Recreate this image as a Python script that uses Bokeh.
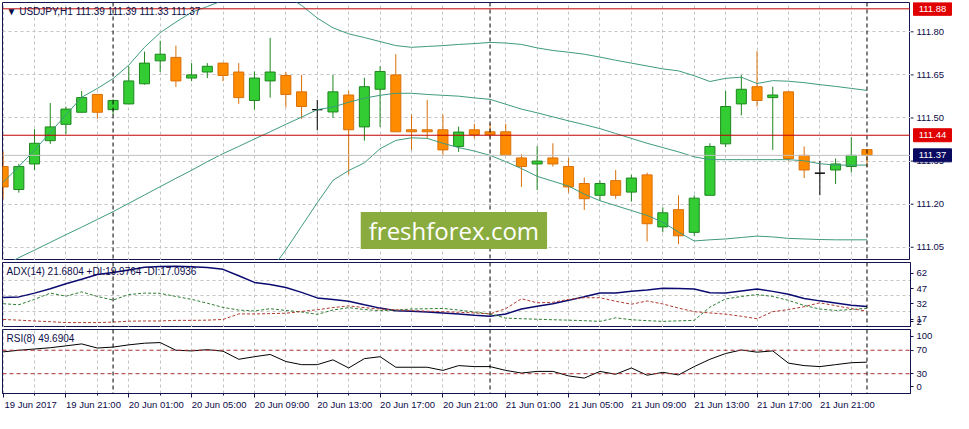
import pandas as pd
from bokeh.plotting import figure
from bokeh.models import (Range1d, FixedTicker, Span, Label, ColumnDataSource,
                          LinearAxis)
from bokeh.layouts import column, row
from bokeh.core.properties import value
from bokeh.embed import file_html
from bokeh.resources import INLINE

# ---------------- data ----------------
symbol = "USDJPY,H1"
times = pd.date_range("2017-06-19 17:00", periods=56, freq="h")

opens = [111.331, 111.251, 111.340, 111.421, 111.478, 111.520, 111.582, 111.529,
         111.549, 111.619, 111.699, 111.711, 111.639, 111.660, 111.691, 111.660,
         111.561, 111.629, 111.648, 111.591, 111.529, 111.521, 111.580, 111.469,
         111.600, 111.650, 111.459, 111.459, 111.459, 111.401, 111.459, 111.452,
         111.452, 111.361, 111.340, 111.361, 111.331, 111.272, 111.231, 111.282,
         111.242, 111.302, 111.121, 111.181, 111.102, 111.231, 111.410, 111.549,
         111.609, 111.571, 111.591, 111.370, 111.308, 111.319, 111.331, 111.39]
highs = [111.382, 111.340, 111.461, 111.552, 111.540, 111.594, 111.584, 111.565,
         111.680, 111.731, 111.769, 111.752, 111.691, 111.691, 111.693, 111.691,
         111.662, 111.779, 111.660, 111.650, 111.563, 111.650, 111.594, 111.640,
         111.680, 111.722, 111.512, 111.563, 111.512, 111.470, 111.480, 111.480,
         111.480, 111.374, 111.402, 111.412, 111.361, 111.293, 111.282, 111.319,
         111.302, 111.310, 111.189, 111.231, 111.231, 111.412, 111.594, 111.650,
         111.733, 111.609, 111.592, 111.401, 111.351, 111.359, 111.433, 111.39]
lows = [111.219, 111.240, 111.319, 111.410, 111.444, 111.518, 111.497, 111.510,
        111.548, 111.616, 111.660, 111.608, 111.628, 111.639, 111.628, 111.549,
        111.529, 111.571, 111.537, 111.497, 111.457, 111.501, 111.304, 111.421,
        111.469, 111.452, 111.389, 111.429, 111.370, 111.382, 111.430, 111.433,
        111.370, 111.260, 111.249, 111.331, 111.240, 111.180, 111.212, 111.219,
        111.209, 111.070, 111.102, 111.061, 111.090, 111.231, 111.399, 111.509,
        111.540, 111.389, 111.351, 111.291, 111.231, 111.270, 111.310, 111.33]
closes = [111.260, 111.331, 111.412, 111.469, 111.531, 111.571, 111.520, 111.561,
          111.629, 111.691, 111.722, 111.629, 111.650, 111.680, 111.648, 111.571,
          111.639, 111.660, 111.582, 111.540, 111.529, 111.591, 111.459, 111.609,
          111.662, 111.452, 111.452, 111.452, 111.389, 111.451, 111.442, 111.442,
          111.370, 111.331, 111.350, 111.340, 111.260, 111.219, 111.272, 111.231,
          111.291, 111.132, 111.170, 111.090, 111.221, 111.401, 111.540, 111.600,
          111.561, 111.580, 111.359, 111.319, 111.308, 111.340, 111.370, 111.37]

bb_upper = [111.276, 111.331, 111.388, 111.450, 111.511, 111.572, 111.603, 111.637,
            111.684, 111.746, 111.797, 111.834, 111.868, 111.888, 111.909, 111.926,
            111.936, 111.940, 111.926, 111.892, 111.848, 111.814, 111.793, 111.780,
            111.766, 111.752, 111.746, 111.749, 111.752, 111.756, 111.759, 111.763,
            111.761, 111.756, 111.744, 111.735, 111.729, 111.722, 111.712, 111.701,
            111.691, 111.681, 111.671, 111.664, 111.647, 111.627, 111.638, 111.642,
            111.620, 111.630, 111.628, 111.623, 111.616, 111.610, 111.603, 111.596]
bb_mid = [110.984, 111.014, 111.040, 111.067, 111.094, 111.120, 111.147, 111.174,
          111.203, 111.232, 111.261, 111.290, 111.318, 111.348, 111.376, 111.401,
          111.427, 111.452, 111.478, 111.503, 111.529, 111.538, 111.555, 111.569,
          111.579, 111.586, 111.586, 111.582, 111.579, 111.576, 111.570, 111.565,
          111.548, 111.531, 111.518, 111.504, 111.490, 111.477, 111.463, 111.446,
          111.429, 111.412, 111.397, 111.382, 111.365, 111.355, 111.355, 111.355,
          111.355, 111.355, 111.355, 111.351, 111.341, 111.336, 111.336, 111.336]
bb_lower = [110.691, 110.701, 110.695, 110.684, 110.678, 110.671, 110.691, 110.712,
            110.722, 110.718, 110.725, 110.746, 110.769, 110.807, 110.844, 110.878,
            110.919, 110.967, 111.041, 111.123, 111.205, 111.283, 111.317, 111.344,
            111.393, 111.422, 111.431, 111.429, 111.412, 111.397, 111.385, 111.370,
            111.348, 111.324, 111.297, 111.280, 111.263, 111.235, 111.212, 111.195,
            111.178, 111.161, 111.137, 111.103, 111.072, 111.076, 111.079, 111.084,
            111.089, 111.086, 111.081, 111.079, 111.077, 111.076, 111.076, 111.076]

adx = [30.4, 31.1, 34.8, 39.1, 43.9, 48.4, 53.0, 55.0, 57.5, 60.2, 61.0, 61.2,
       60.7, 60.0, 58.1, 51.8, 45.3, 43.2, 40.3, 35.5, 30.1, 28.5, 26.8, 23.4,
       20.1, 17.5, 17.0, 16.3, 15.4, 14.4, 13.2, 12.2, 14.4, 19.2, 22.0, 24.4,
       27.7, 31.2, 35.0, 35.0, 36.6, 37.8, 39.6, 39.3, 38.8, 35.1, 35.0, 36.9,
       38.8, 36.5, 33.6, 29.6, 27.2, 25.2, 23.0, 21.6804]
plus_di = [24.4, 23.4, 28.7, 34.8, 31.8, 36.0, 31.5, 28.0, 33.4, 34.8, 34.6, 31.5,
           28.7, 24.9, 20.8, 18.2, 17.3, 19.5, 17.8, 16.3, 14.0, 18.2, 20.6, 18.7,
           17.6, 18.2, 19.2, 19.5, 19.8, 18.2, 16.3, 14.4, 10.3, 9.7, 9.2, 8.7,
           8.3, 7.8, 7.1, 10.6, 8.7, 7.8, 7.1, 7.6, 8.1, 21.1, 29.1, 31.5,
           33.4, 31.5, 27.7, 22.7, 19.2, 17.8, 18.7, 19.9764]
minus_di = [9.0, 8.3, 7.5, 6.8, 5.9, 5.9, 5.9, 6.4, 7.3, 7.5, 7.5, 8.1,
            8.1, 8.3, 9.0, 14.4, 14.4, 14.7, 15.1, 16.8, 18.5, 20.6, 22.3, 20.6,
            19.2, 18.4, 17.6, 17.1, 16.6, 16.0, 15.4, 14.4, 19.6, 29.3, 25.3, 25.8,
            28.7, 30.3, 30.3, 26.8, 23.9, 27.1, 24.2, 20.1, 16.6, 15.4, 14.2, 12.1,
            9.7, 16.6, 18.7, 21.5, 25.3, 22.5, 19.6, 17.0936]
rsi = [67.2, 70.0, 72.1, 74.3, 77.5, 80.8, 73.8, 75.4, 79.2, 82.0, 83.1, 70.0,
       68.9, 71.0, 68.4, 54.6, 59.0, 62.8, 50.8, 45.4, 45.4, 53.6, 39.8, 55.7,
       59.0, 41.0, 41.0, 41.0, 35.6, 43.8, 42.1, 42.1, 35.6, 31.1, 33.9, 33.9,
       26.2, 22.5, 33.9, 29.0, 39.8, 27.4, 32.3, 27.9, 42.1, 54.6, 64.4, 70.5,
       66.7, 68.9, 48.0, 43.8, 42.1, 45.4, 48.7, 49.6904]

level_lines = [111.88, 111.44]
price_ticks = [111.05, 111.20, 111.35, 111.50, 111.65, 111.80]
adx_ticks = [62, 47, 32, 17, 2]
adx_grid = [47, 32, 17]
rsi_ticks = [100, 70, 30, 0]
rsi_levels = [30, 70]
time_tick_labels = ["19 Jun 2017", "19 Jun 21:00", "20 Jun 01:00", "20 Jun 05:00",
                    "20 Jun 09:00", "20 Jun 13:00", "20 Jun 17:00", "20 Jun 21:00",
                    "21 Jun 01:00", "21 Jun 05:00", "21 Jun 09:00", "21 Jun 13:00",
                    "21 Jun 17:00", "21 Jun 21:00"]

# ---------------- style ----------------
FONT = "Liberation Sans"
FS = "9.5px"
TXT = "#0c0c48"
FRAME = "#141450"
GRID = "#c4c4c4"
BULL_FILL, BULL_LINE = "#33cc33", "#1f861f"
BEAR_FILL, BEAR_LINE = "#ff8c00", "#d9700a"
BAND = "#3f9a80"
SIDE_W = 42
FW = 908
H_MAIN, H_ADX, H_RSI = 258, 65, 64

n = len(closes)
idx = list(range(n))
xr = Range1d(-0.04, 57.77)
even_idx = [i for i in idx if i % 2 == 0]
label_idx = [i for i in idx if i % 4 == 0]
separators = [i for i, t in enumerate(times) if t.hour == 0]
px_per_bar = FW / (xr.end - xr.start)
label_shift = 27.5 / px_per_bar          # left-align time labels at their tick


def style(p):
    p.background_fill_color = "white"
    p.border_fill_color = "white"
    p.outline_line_color = FRAME
    p.outline_line_width = 1
    p.yaxis.axis_line_color = FRAME
    p.yaxis.major_tick_line_color = FRAME
    p.yaxis.minor_tick_line_color = None
    p.yaxis.major_tick_out = 3
    p.yaxis.major_tick_in = 0
    p.yaxis.major_label_standoff = 3
    p.yaxis.major_label_text_font = FONT
    p.yaxis.major_label_text_font_size = FS
    p.yaxis.major_label_text_color = TXT
    p.xgrid.ticker = FixedTicker(ticks=even_idx)
    p.xgrid.grid_line_color = GRID
    p.xgrid.grid_line_dash = "3 3"
    p.ygrid.grid_line_color = GRID
    p.ygrid.grid_line_dash = "3 3"
    for s in separators:
        p.add_layout(Span(location=s, dimension="height", line_color="black",
                          line_dash="4 3", line_width=1))


def header(p, text, xoff):
    p.add_layout(Label(x=xr.start, y=p.y_range.end, x_offset=xoff, y_offset=-3,
                       text=text, text_font=FONT, text_font_size="10px",
                       text_color=TXT, text_baseline="top", text_align="left"))


def label_positions(ticks, yr, frame_h, shift_px, margin_px):
    # terminal-style scale labels: shifted by shift_px and kept inside the pane
    upp = (yr.end - yr.start) / frame_h
    lo, hi = yr.start + margin_px * upp, yr.end - margin_px * upp
    return [round(min(max(v - shift_px * upp, lo), hi), 3) for v in ticks]


# ---------------- main price panel ----------------
yr1 = Range1d(111.004, 111.902)
p1 = figure(frame_width=FW, frame_height=H_MAIN, x_range=xr, y_range=yr1,
            output_backend="svg", toolbar_location=None,
            y_axis_location=None, x_axis_location=None,
            min_border_left=2, min_border_right=0, min_border_top=2,
            min_border_bottom=0)
style(p1)
p1.ygrid.ticker = FixedTicker(ticks=price_ticks)

p1.add_layout(Span(location=closes[-1], dimension="width", line_color="#c0c0c0",
                   line_width=1))
for v in level_lines:
    p1.add_layout(Span(location=v, dimension="width", line_color="#c00000",
                       line_width=1))

fills, lines, tops, bottoms = [], [], [], []
for o, c in zip(opens, closes):
    if abs(o - c) < 1e-9:
        fills.append("black"); lines.append("black")
    elif c > o:
        fills.append(BULL_FILL); lines.append(BULL_LINE)
    else:
        fills.append(BEAR_FILL); lines.append(BEAR_LINE)
    tops.append(max(o, c)); bottoms.append(min(o, c))

src = ColumnDataSource(dict(x=idx, h=highs, l=lows, top=tops, bottom=bottoms,
                            fill=fills, line=lines))
p1.segment(x0="x", y0="h", x1="x", y1="l", line_color="line", line_width=1,
           source=src)
p1.vbar(x="x", width=0.64, top="top", bottom="bottom", fill_color="fill",
        line_color="line", line_width=1, source=src)

for band in (bb_upper, bb_mid, bb_lower):
    p1.line(idx, band, line_color=BAND, line_width=1)

o_, h_, l_, c_ = opens[-1], highs[-1], lows[-1], closes[-1]
header(p1, f"\u25BC {symbol}  {o_:.2f} {h_:.2f} {l_:.2f} {c_:.2f}", 4)

p1.add_layout(Label(x=28.7, y=111.108, text="freshforex.com",
                    text_font="Open Sans", text_font_size="24px",
                    text_color="white", text_align="center",
                    text_baseline="middle", background_fill_color="#8aac3e",
                    padding=dict(left=8, right=8, top=2, bottom=2)))

# ---------------- price scale (right side of main panel) ----------------
side = figure(frame_width=SIDE_W, frame_height=H_MAIN, x_range=Range1d(0, SIDE_W),
              y_range=yr1, output_backend="svg", toolbar_location=None,
              x_axis_location=None, y_axis_location=None,
              min_border_left=0, min_border_right=0, min_border_top=2,
              min_border_bottom=0)
side.outline_line_color = None
side.xgrid.visible = False
side.ygrid.visible = False
side.background_fill_color = "white"
side.border_fill_color = "white"
side.segment(x0=[0] * len(price_ticks), x1=[3] * len(price_ticks),
             y0=price_ticks, y1=price_ticks, line_color=FRAME, line_width=1)
side.text(x=[6] * len(price_ticks), y=price_ticks,
          text=[f"{v:.2f}" for v in price_ticks], text_font=value(FONT),
          text_font_size=value(FS), text_color=TXT, text_baseline="middle",
          text_align="left")
box_vals = level_lines + [closes[-1]]
box_cols = ["#e00000", "#e00000", "#0a0a60"]
side.rect(x=[SIDE_W / 2 + 1] * 3, y=box_vals, width=[SIDE_W - 4] * 3,
          height=13, height_units="screen", fill_color=box_cols,
          line_color=box_cols)
side.text(x=[SIDE_W / 2 + 1] * 3, y=box_vals, text=[f"{v:.2f}" for v in box_vals],
          text_font=value(FONT), text_font_size=value(FS), text_color="white",
          text_baseline="middle", text_align="center")

# ---------------- ADX panel ----------------
yr2 = Range1d(1.1, 64.8)
p2 = figure(frame_width=FW, frame_height=H_ADX, x_range=xr, y_range=yr2,
            output_backend="svg", toolbar_location=None,
            y_axis_location="right", x_axis_location=None,
            min_border_left=2, min_border_right=SIDE_W, min_border_top=0,
            min_border_bottom=0)
style(p2)
adx_pos = label_positions(adx_ticks, yr2, H_ADX, 8, 6)
p2.yaxis.ticker = FixedTicker(ticks=adx_pos)
p2.yaxis.major_label_overrides = {pos: str(v) for pos, v in zip(adx_pos, adx_ticks)}
p2.ygrid.ticker = FixedTicker(ticks=adx_grid)
p2.line(idx, adx, line_color="#0a0a70", line_width=1.5)
p2.line(idx, plus_di, line_color="#2e7d32", line_width=1, line_dash="3 2")
p2.line(idx, minus_di, line_color="#b03a2e", line_width=1, line_dash="3 2")
header(p2, f"ADX(14) {adx[-1]:.4f} +DI:{plus_di[-1]:.4f} -DI:{minus_di[-1]:.4f}", 4)

# ---------------- RSI panel ----------------
yr3 = Range1d(-3.8, 105.4)
p3 = figure(frame_width=FW, frame_height=H_RSI, x_range=xr, y_range=yr3,
            output_backend="svg", toolbar_location=None,
            y_axis_location="right",
            min_border_left=2, min_border_right=SIDE_W, min_border_top=0,
            min_border_bottom=0)
style(p3)
rsi_pos = label_positions(rsi_ticks, yr3, H_RSI, 0, 6.5)
p3.yaxis.ticker = FixedTicker(ticks=rsi_pos)
p3.yaxis.major_label_overrides = {pos: str(v) for pos, v in zip(rsi_pos, rsi_ticks)}
p3.ygrid.grid_line_color = None
for v in rsi_levels:
    p3.add_layout(Span(location=v, dimension="width", line_color="#a83232",
                       line_dash="4 3", line_width=1))
p3.line(idx, rsi, line_color="black", line_width=1)
header(p3, f"RSI(8) {rsi[-1]:.4f}", 4)

# tick marks axis (labels hidden)
p3.xaxis.ticker = FixedTicker(ticks=label_idx, minor_ticks=even_idx)
p3.xaxis.major_label_text_font_size = "1px"
p3.xaxis.major_label_text_color = None
p3.xaxis.major_label_standoff = 0
p3.xaxis.axis_line_color = FRAME
p3.xaxis.major_tick_line_color = FRAME
p3.xaxis.minor_tick_line_color = FRAME
p3.xaxis.major_tick_out = 4
p3.xaxis.major_tick_in = 0
p3.xaxis.minor_tick_out = 2
p3.xaxis.minor_tick_in = 0

# label axis: time labels starting at their tick
lab_pos = [k + label_shift for k in label_idx]
lab_axis = LinearAxis(ticker=FixedTicker(ticks=lab_pos),
                      major_label_overrides={pos: t for pos, t in
                                             zip(lab_pos, time_tick_labels)},
                      axis_line_color=None, major_tick_line_color=None,
                      minor_tick_line_color=None, major_tick_out=0,
                      major_tick_in=0, major_label_standoff=1,
                      major_label_text_font=FONT, major_label_text_font_size=FS,
                      major_label_text_color=TXT)
p3.add_layout(lab_axis, "below")

layout = column(row(p1, side, spacing=0), p2, p3, spacing=2)
open("out.html", "w").write(file_html(layout, INLINE))
